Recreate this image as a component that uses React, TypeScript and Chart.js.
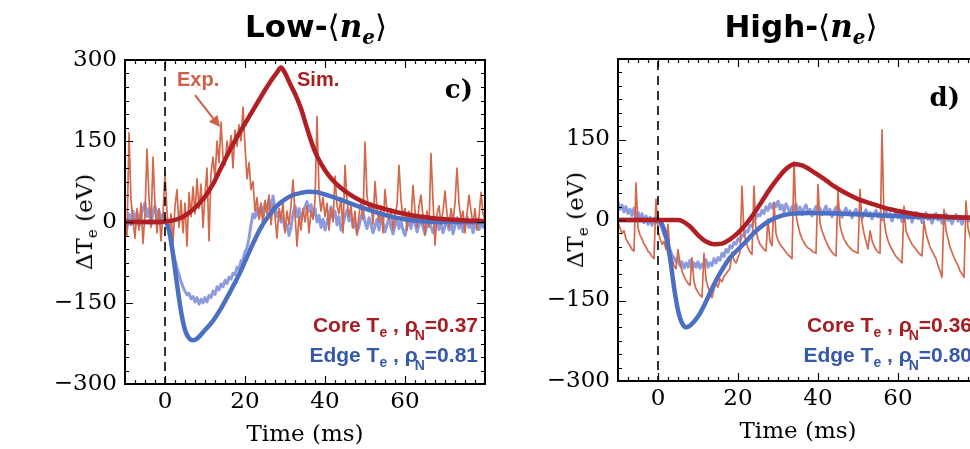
import React, { useEffect, useRef } from "react";
import { Chart, registerables } from "chart.js";

Chart.register(...registerables);

// ---------------- axes ----------------
const X_MIN = -10;
const X_MAX = 80;
const Y_MIN = -300;
const Y_MAX = 300;
const xTickValues = [0, 20, 40, 60];
const yTickValues = [-300, -150, 0, 150, 300];
const xMinorStep = 2.5;
const yMinorStep = 25;

// experimental sampling grid (ms)
const expTime = Array.from({ length: 181 }, (_, i) => -10 + i * 0.5);

// ---------------- Low-<ne> (panel c) ----------------
const lowSimCoreT = [-10, -2, 0, 2, 4, 6, 8, 10, 12, 14, 16, 18, 20, 22, 24, 26, 28, 29, 30, 31, 32, 33, 34, 35, 36, 37, 38, 40, 42, 44, 46, 48, 50, 54, 58, 62, 66, 70, 75, 80];
const lowSimCore = [0, 0, 1, 3, 8, 17, 30, 47, 70, 100, 130, 157, 182, 207, 232, 256, 277, 286, 276, 260, 245, 229, 210, 186, 162, 140, 122, 96, 77, 63, 52, 43, 36, 26, 18, 12, 8, 5, 3, 2];

const lowSimEdgeT = [-10, 0, 1, 2, 3, 4, 5, 6, 7, 8, 10, 12, 14, 16, 18, 19, 20, 22, 24, 26, 28, 30, 32, 34, 36, 38, 40, 44, 48, 52, 56, 60, 65, 70, 80];
const lowSimEdge = [0, 0, -15, -60, -115, -165, -200, -215, -219, -216, -200, -183, -160, -133, -105, -90, -73, -40, -10, 12, 30, 42, 50, 54, 56, 55, 51, 41, 30, 20, 11, 5, 1, 0, 0];

const lowExpCore = [
  10, -25, 165, 40, 5, -30, 25, -15, 35, -40, 15, 135, 45, -10, 120, 30, -20, 25, -35, 15,
  90, 20, -25, 15, -40, 30, 60, -10, 40, -20, 35, -45, 55, 10, 65, 15, 80, 25, 70, -10,
  50, 100, -35, 90, 120, 80, 150, 110, 185, 120, 105, 150, 125, 160, 100, 170, 140, 180, 150, 213,
  140, 80, 110, 60, 75, 20, 45, 5, 35, -10, 40, 15, 50, -5, 30, 10, -30, 25, 5, 35,
  -20, 20, -5, 30, 78, 15, -45, 10, -15, 25, 0, 30, -20, 20, 5, 40, 195, 55, 20, 45,
  10, 35, -15, 25, 0, 85, 30, 15, 45, -20, 105, 40, 10, 30, -10, 20, -25, 15, 35, 5,
  148, 50, 20, 35, -5, 75, 25, 0, 30, -20, 60, 20, 5, 25, -15, 15, 30, 105, 40, 10,
  25, -15, 20, 0, 68, 20, -10, 30, 50, 10, -25, 20, -10, 127, 40, -43, 15, 30, -5, 20,
  57, 15, -10, 25, 0, 35, 100, 35, 5, 20, -20, 15, 50, 20, -5, 25, -15, 10, 55, 15,
  5,
];

const lowExpEdge = [
  5, -12, 15, -5, 20, 0, 18, -8, 12, 25, 35, 10, 25, -5, 20, 30, 5, 22, -2, 15,
  8, -5, -20, -35, -55, -70, -85, -98, -110, -120, -128, -135, -132, -142, -138, -148, -140, -152, -143, -150,
  -140, -148, -136, -140, -128, -134, -120, -126, -115, -120, -108, -114, -102, -106, -95, -98, -84, -88, -72, -70,
  -55, -48, -30, -5, 15, 8, 25, 10, 30, 12, 35, 18, 42, 20, 48, 25, 10, 20, 0, 10,
  -15, -5, -25, -10, 15, 30, 10, 25, 5, 18, 28, 38, 20, 32, 12, 25, 0, 12, -10, 5,
  -15, 0, 15, 28, 8, 20, -5, 10, -15, -5, 12, 22, 2, 15, -10, 0, -20, -8, 10, 20,
  0, -12, 8, -5, -20, -8, 5, -15, 10, -2, -18, -5, 8, -10, -22, -6, 6, -12, 2, -15,
  -25, -8, 5, -12, 12, -3, -18, -6, 8, -10, -22, -5, 10, -8, -20, -4, 6, -14, 0, -20,
  -8, 5, -15, 2, -22, -6, 8, -12, 4, -18, -5, 10, -10, 0, -20, -6, 5, -14, 2, -10,
  -5,
];

// ---------------- High-<ne> (panel d) ----------------
const highSimCoreT = [-10, 5, 6, 8, 10, 12, 14, 16, 18, 20, 22, 24, 26, 28, 30, 32, 34, 36, 38, 40, 42, 44, 46, 48, 50, 54, 58, 62, 66, 70, 75, 80];
const highSimCore = [0, 0, -2, -12, -28, -40, -45, -44, -36, -24, -8, 12, 35, 58, 78, 95, 104, 102, 94, 84, 74, 63, 54, 46, 39, 29, 20, 14, 9, 7, 5, 4];

const highSimEdgeT = [-10, 0, 1, 2, 3, 4, 5, 6, 7, 8, 10, 12, 14, 16, 18, 20, 22, 24, 26, 28, 30, 32, 34, 38, 45, 55, 65, 80];
const highSimEdge = [0, 0, -8, -30, -70, -125, -168, -192, -200, -197, -180, -152, -120, -93, -70, -55, -40, -24, -11, -1, 6, 10, 12, 13, 12, 9, 6, 4];

const highExpCore = [
  -5, -15, -25, -20, -35, -42, -48, -55, -58, 69, -15, -28, -35, -45, -50, -58, -62, -68, -72, 39,
  -20, -35, -45, -40, -55, -8, -60, -72, -85, -91, -55, -80, -95, -105, -112, -118, -122, -70, -115, -128,
  -135, -140, -144, -62, -110, -125, -135, -145, -128, -118, -125, -110, -115, -105, -100, -95, -90, -60, -75, -80,
  -70, -60, 63, -25, -40, -52, -60, -64, 63, -20, -35, -45, -50, -55, -58, 2, -40, -48, 32, -25,
  -38, -45, -50, -55, -60, -65, -68, -72, 109, 10, -10, -25, -35, -42, -48, -52, -54, -58, -60, -62,
  66, -5, -20, -30, -40, -48, -55, -60, -64, -67, 54, -10, -25, -35, -42, -48, -52, -56, -58, -60,
  -62, 57, -5, -25, -40, -54, -20, -38, -48, -55, -60, -62, 168, 0, -25, -38, -48, -55, -62, -68,
  -72, -76, -80, 26, -20, -30, -38, -45, -50, -55, -60, -64, -67, -2, -25, -38, -50, -58, -65, -72,
  -85, -95, -107, 20, -20, -35, -50, -60, -70, -78, -85, -95, -100, -107, 35, -15, -30, -45, -55, -65,
  -72,
];

const highExpEdge = [
  32, 20, 28, 15, 25, 12, 20, 8, 22, 5, 15, 0, 12, -5, 8, -8, 5, -10, 3, -5,
  5, -8, -15, -28, -35, -48, -55, -65, -70, -78, -72, -85, -78, -90, -80, -88, -75, -92, -80, -88,
  -78, -90, -82, -86, -74, -88, -80, -85, -72, -80, -70, -75, -62, -68, -55, -60, -48, -52, -42, -45,
  -35, -38, -28, -30, -20, -22, -10, -12, 0, 5, 10, 8, 18, 12, 25, 18, 30, 22, 32, 25,
  35, 20, 28, 15, 30, 22, 12, 25, 18, 30, 15, 24, 10, 22, 28, 14, 20, 8, 18, 25,
  12, 22, 10, 18, 26, 14, 20, 6, 16, 24, 12, 18, 5, 15, 22, 10, 17, 4, 14, 20,
  8, 16, 3, 12, 19, 7, 14, 2, 11, 18, 6, 13, 0, 10, 17, 5, 12, -2, 9, 15,
  4, 11, -3, 8, 15, 3, 10, -4, 7, 14, 2, 9, -5, 6, 13, 1, 8, -6, 5, 12,
  0, 7, -6, 4, 11, -1, 6, -7, 3, 10, -2, 5, -8, 2, 9, -3, 4, -8, 1, 8,
  0,
];

// annotation arrow for "Exp." (data coordinates: ms, eV)
const expArrowFrom = [7.5, 235];
const expArrowTo = [13.75, 176];

// ---------------- styles ----------------
const SIM_CORE = "#b11f24";
const SIM_EDGE = "#4a6fc3";
const EXP_CORE = "#d5684b";
const EXP_EDGE = "rgba(112,130,214,0.8)";
const CORE_TXT = "#a61d24";
const EDGE_TXT = "#3658a8";
const EXP_TXT = "#cf5f46";
const SIM_TXT = "#a81c22";

const xy = (t: number[], v: number[]) =>
  t.slice(0, Math.min(t.length, v.length)).map((x, i) => ({ x, y: v[i] }));

const fmtY = (v: number) => (v < 0 ? "\u2212" + Math.abs(v) : String(v));

const axisFramePlugin = {
  id: "axisFrame",
  afterDatasetsDraw(chart: any, _args: any, opts: any) {
    const { ctx, chartArea: a, scales } = chart;
    const xs = scales.x;
    const ys = scales.y;
    ctx.save();
    ctx.strokeStyle = "#000";
    // dashed t = 0 marker
    const x0 = xs.getPixelForValue(0);
    ctx.lineWidth = 1.6;
    ctx.setLineDash([9, 6]);
    ctx.beginPath();
    ctx.moveTo(x0, a.top + 2);
    ctx.lineTo(x0, a.bottom);
    ctx.stroke();
    ctx.setLineDash([]);

    if (opts && opts.arrow) {
      const x1 = xs.getPixelForValue(opts.arrow.from[0]);
      const y1 = ys.getPixelForValue(opts.arrow.from[1]);
      const x2 = xs.getPixelForValue(opts.arrow.to[0]);
      const y2 = ys.getPixelForValue(opts.arrow.to[1]);
      const ang = Math.atan2(y2 - y1, x2 - x1);
      const head = 11;
      const half = 5.5;
      const bx = x2 - head * Math.cos(ang);
      const by = y2 - head * Math.sin(ang);
      ctx.strokeStyle = opts.arrow.color;
      ctx.fillStyle = opts.arrow.color;
      ctx.lineWidth = 2;
      ctx.beginPath();
      ctx.moveTo(x1, y1);
      ctx.lineTo(bx, by);
      ctx.stroke();
      ctx.beginPath();
      ctx.moveTo(x2, y2);
      ctx.lineTo(bx + half * Math.sin(ang), by - half * Math.cos(ang));
      ctx.lineTo(bx - half * Math.sin(ang), by + half * Math.cos(ang));
      ctx.closePath();
      ctx.fill();
    }

    // inward ticks on all four sides
    ctx.strokeStyle = "#000";
    ctx.lineWidth = 1.2;
    ctx.beginPath();
    for (let i = 1; ; i++) {
      const v = X_MIN + i * xMinorStep;
      if (v >= X_MAX - 1e-9) break;
      const p = Math.round(xs.getPixelForValue(v)) + 0.5;
      const len = v % 20 === 0 ? 8 : 4;
      ctx.moveTo(p, a.bottom);
      ctx.lineTo(p, a.bottom - len);
      ctx.moveTo(p, a.top);
      ctx.lineTo(p, a.top + len);
    }
    for (let i = 1; ; i++) {
      const v = Y_MIN + i * yMinorStep;
      if (v >= Y_MAX - 1e-9) break;
      const p = Math.round(ys.getPixelForValue(v)) + 0.5;
      const len = v % 150 === 0 ? 8 : 4;
      ctx.moveTo(a.left, p);
      ctx.lineTo(a.left + len, p);
      ctx.moveTo(a.right, p);
      ctx.lineTo(a.right - len, p);
    }
    ctx.stroke();
    ctx.lineWidth = 2;
    ctx.strokeRect(a.left, a.top, a.right - a.left, a.bottom - a.top);
    ctx.restore();
  },
};

type Panel = {
  simCoreT: number[];
  simCore: number[];
  simEdgeT: number[];
  simEdge: number[];
  expCore: number[];
  expEdge: number[];
  top: number;
  padRight: number;
  yAxisW: number;
  xAxisH: number;
  titlePad: number;
  hideTopLabel: boolean;
  arrow: any;
};

const lowPanel: Panel = {
  simCoreT: lowSimCoreT, simCore: lowSimCore,
  simEdgeT: lowSimEdgeT, simEdge: lowSimEdge,
  expCore: lowExpCore, expEdge: lowExpEdge,
  top: 60, padRight: 10, yAxisW: 125, xAxisH: 65, titlePad: 0, hideTopLabel: false,
  arrow: { from: expArrowFrom, to: expArrowTo, color: EXP_TXT },
};

const highPanel: Panel = {
  simCoreT: highSimCoreT, simCore: highSimCore,
  simEdgeT: highSimEdgeT, simEdge: highSimEdge,
  expCore: highExpCore, expEdge: highExpEdge,
  top: 59, padRight: 12, yAxisW: 123, xAxisH: 68, titlePad: 3, hideTopLabel: true,
  arrow: null,
};

function makeConfig(p: Panel): any {
  const axisFont = { family: "'DejaVu Serif', serif", size: 23 };
  return {
    type: "line",
    data: {
      datasets: [
        { data: xy(p.simCoreT, p.simCore), borderColor: SIM_CORE, borderWidth: 4.5, cubicInterpolationMode: "monotone" },
        { data: xy(p.simEdgeT, p.simEdge), borderColor: SIM_EDGE, borderWidth: 4.5, cubicInterpolationMode: "monotone" },
        { data: xy(expTime, p.expCore), borderColor: EXP_CORE, borderWidth: 1.7 },
        { data: xy(expTime, p.expEdge), borderColor: EXP_EDGE, borderWidth: 3 },
      ],
    },
    options: {
      responsive: false,
      animation: false,
      devicePixelRatio: 1,
      layout: { padding: { top: p.top, right: p.padRight, left: 0, bottom: 0 } },
      elements: {
        point: { radius: 0, hoverRadius: 0 },
        line: { tension: 0, fill: false, borderCapStyle: "round", borderJoinStyle: "round" },
      },
      events: [],
      plugins: {
        legend: { display: false },
        tooltip: { enabled: false },
        axisFrame: { arrow: p.arrow },
      },
      scales: {
        x: {
          type: "linear",
          min: X_MIN,
          max: X_MAX,
          position: "bottom",
          grid: { display: false, drawTicks: false },
          border: { display: false },
          afterBuildTicks: (s: any) => {
            s.ticks = xTickValues.map((value) => ({ value }));
          },
          afterFit: (s: any) => {
            s.height = p.xAxisH;
          },
          ticks: { font: axisFont, color: "#000", padding: 4, maxRotation: 0, autoSkip: false },
          title: {
            display: true,
            text: "Time (ms)",
            font: axisFont,
            color: "#000",
            padding: { top: 0, bottom: p.titlePad },
          },
        },
        y: {
          type: "linear",
          min: Y_MIN,
          max: Y_MAX,
          position: "left",
          grid: { display: false, drawTicks: false },
          border: { display: false },
          afterBuildTicks: (s: any) => {
            s.ticks = yTickValues.map((value) => ({ value }));
          },
          afterFit: (s: any) => {
            s.width = p.yAxisW;
          },
          ticks: {
            font: axisFont,
            color: "#000",
            padding: 8,
            autoSkip: false,
            callback: (v: any) => (p.hideTopLabel && v === Y_MAX ? "" : fmtY(Number(v))),
          },
        },
      },
    },
    plugins: [axisFramePlugin],
  };
}

const subStyle = (dy: number, size: number, ml = 0): React.CSSProperties => ({
  fontSize: size,
  position: "relative",
  top: dy,
  marginLeft: ml,
});

function ProfileLabel(props: { right: number; top: number; color: string; name: string; rho: string }) {
  return (
    <div
      style={{
        position: "absolute",
        right: props.right,
        top: props.top,
        color: props.color,
        font: "bold 21px 'Liberation Sans', Arial, sans-serif",
        lineHeight: "21px",
        whiteSpace: "nowrap",
      }}
    >
      {props.name + " T"}
      <span style={subStyle(5, 14)}>e</span>
      {" , \u03c1"}
      <span style={subStyle(8, 14, -3)}>N</span>
      {"=" + props.rho}
    </div>
  );
}

function PanelTitle(props: { center: number; word: string }) {
  return (
    <div
      style={{
        position: "absolute",
        left: props.center - 150,
        width: 300,
        top: 11,
        textAlign: "center",
        whiteSpace: "nowrap",
        font: "bold 31px 'DejaVu Sans', sans-serif",
        lineHeight: "31px",
        color: "#000",
      }}
    >
      {props.word + "-"}
      <span style={{ fontWeight: 400 }}>{"\u27e8"}</span>
      <span style={{ fontFamily: "'DejaVu Serif', serif", fontStyle: "italic" }}>n</span>
      <span style={{ ...subStyle(7, 20), fontFamily: "'DejaVu Serif', serif", fontStyle: "italic" }}>e</span>
      <span style={{ fontWeight: 400 }}>{"\u27e9"}</span>
    </div>
  );
}

function YLabel(props: { cx: number; cy: number }) {
  return (
    <div
      style={{
        position: "absolute",
        left: props.cx,
        top: props.cy,
        transform: "translate(-50%, -50%) rotate(-90deg)",
        font: "23px 'DejaVu Serif', serif",
        lineHeight: "23px",
        whiteSpace: "nowrap",
        color: "#000",
      }}
    >
      {"\u0394T"}
      <span style={subStyle(5, 15)}>e</span>
      {" (eV)"}
    </div>
  );
}

export default function App() {
  const leftRef = useRef<HTMLCanvasElement>(null);
  const rightRef = useRef<HTMLCanvasElement>(null);

  useEffect(() => {
    const c1 = new Chart(leftRef.current as HTMLCanvasElement, makeConfig(lowPanel));
    const c2 = new Chart(rightRef.current as HTMLCanvasElement, makeConfig(highPanel));
    return () => {
      c1.destroy();
      c2.destroy();
    };
  }, []);

  const tag = (txt: string, left: number, top: number, color: string) => (
    <div
      style={{
        position: "absolute",
        left,
        top,
        color,
        font: "bold 20px 'Liberation Sans', Arial, sans-serif",
        lineHeight: "20px",
        whiteSpace: "nowrap",
      }}
    >
      {txt}
    </div>
  );

  const panelTag = (txt: string, right: number, top: number) => (
    <div
      style={{
        position: "absolute",
        right,
        top,
        color: "#000",
        font: "bold 26px 'DejaVu Serif', serif",
        lineHeight: "26px",
        whiteSpace: "nowrap",
      }}
    >
      {txt}
    </div>
  );

  return (
    <div
      style={{
        position: "fixed",
        left: 0,
        top: 0,
        width: 970,
        height: 449,
        overflow: "hidden",
        background: "#fff",
      }}
    >
      <canvas
        ref={leftRef}
        width={495}
        height={449}
        style={{ position: "absolute", left: 0, top: 0, width: 495, height: 449 }}
      />
      <canvas
        ref={rightRef}
        width={495}
        height={449}
        style={{ position: "absolute", left: 495, top: 0, width: 495, height: 449 }}
      />

      <PanelTitle center={316} word="Low" />
      <PanelTitle center={801} word="High" />

      <YLabel cx={86} cy={222} />
      <YLabel cx={577} cy={220} />

      {tag("Exp.", 177, 69, EXP_TXT)}
      {tag("Sim.", 297, 69, SIM_TXT)}
      {panelTag("c)", 970 - 473, 76)}
      {panelTag("d)", 970 - 960, 84)}

      <ProfileLabel right={970 - 478} top={314} color={CORE_TXT} name="Core" rho="0.37" />
      <ProfileLabel right={970 - 478} top={344} color={EDGE_TXT} name="Edge" rho="0.81" />
      <ProfileLabel right={-2} top={314} color={CORE_TXT} name="Core" rho="0.36" />
      <ProfileLabel right={-2} top={344} color={EDGE_TXT} name="Edge" rho="0.80" />
    </div>
  );
}
